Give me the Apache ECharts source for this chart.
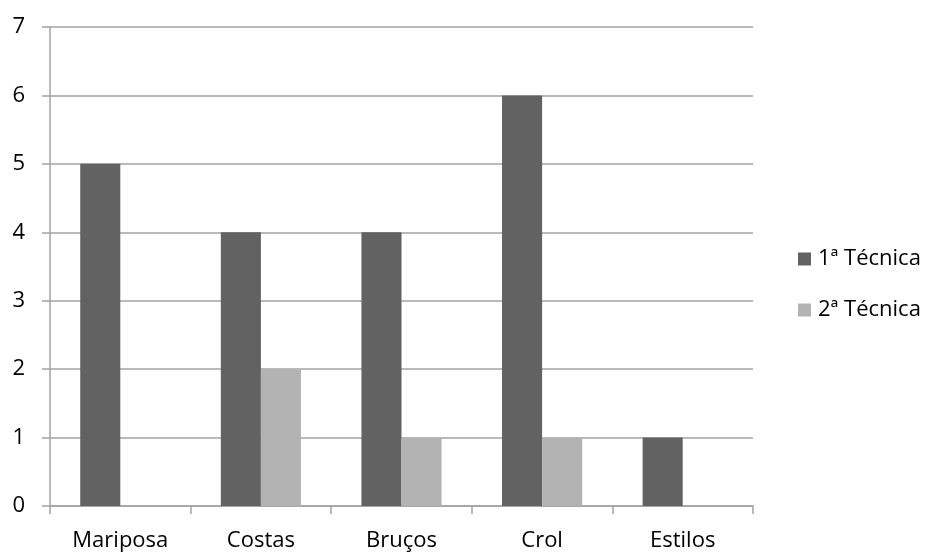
<!DOCTYPE html>
<html>
<head>
<meta charset="utf-8">
<script src="https://cdn.jsdelivr.net/npm/echarts@6/dist/echarts.min.js"></script>
<style>
  html, body { margin: 0; padding: 0; background: #fff; }
  #chart { width: 931px; height: 552px; }
</style>
</head>
<body>
<div id="chart"></div>
<script>
// Swimming styles and the number of students per technique
const categories = ['Mariposa', 'Costas', 'Bruços', 'Crol', 'Estilos'];
const seriesNames = ['1ª Técnica', '2ª Técnica'];
const tecnica1 = [5, 4, 4, 6, 1];
const tecnica2 = [0, 2, 1, 1, 0];
const yTicks = [0, 1, 2, 3, 4, 5, 6, 7];

const font = '"Open Sans", "Liberation Sans", sans-serif';
const lineColor = '#a3a3a3';

const chart = echarts.init(document.getElementById('chart'));
chart.setOption({
  animation: false,
  grid: { left: 50, right: 178, top: 27, bottom: 46, containLabel: false },
  legend: {
    orient: 'vertical',
    left: 793,
    top: 243,
    itemWidth: 13,
    itemHeight: 13,
    itemGap: 29,
    icon: 'rect',
    textStyle: { fontFamily: font, fontSize: 22, color: '#000', padding: [0, 0, 0, 2] },
    data: seriesNames
  },
  xAxis: {
    type: 'category',
    data: categories,
    axisLine: { lineStyle: { color: lineColor, width: 1.5 } },
    axisTick: { show: true, length: 8, lineStyle: { color: lineColor, width: 1.5 } },
    axisLabel: { fontFamily: font, fontSize: 22, color: '#000', margin: 24 }
  },
  yAxis: {
    type: 'value',
    min: yTicks[0],
    max: yTicks[yTicks.length - 1],
    interval: 1,
    axisLine: { show: true, lineStyle: { color: lineColor, width: 1.5 } },
    axisTick: { show: true, length: 8, lineStyle: { color: lineColor, width: 1.5 } },
    axisLabel: { fontFamily: font, fontSize: 22, color: '#000', margin: 25 },
    splitLine: { lineStyle: { color: lineColor, width: 1.5 } }
  },
  series: [
    {
      name: seriesNames[0],
      type: 'bar',
      data: tecnica1,
      itemStyle: { color: '#626262' },
      barGap: '0%',
      barCategoryGap: '43%'
    },
    {
      name: seriesNames[1],
      type: 'bar',
      data: tecnica2,
      itemStyle: { color: '#b3b3b3' }
    }
  ]
});
</script>
</body>
</html>
